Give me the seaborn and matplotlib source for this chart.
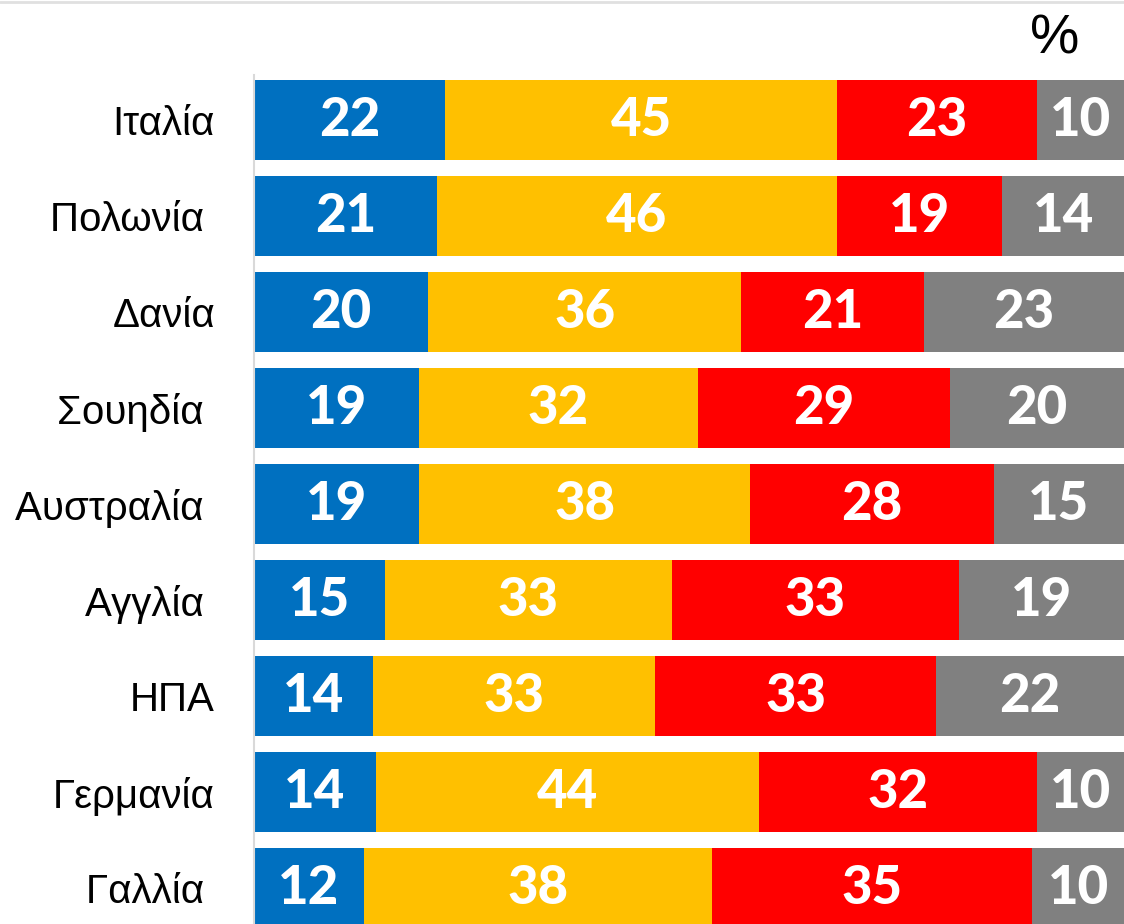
import matplotlib
matplotlib.use("Agg")
import matplotlib.pyplot as plt
from matplotlib.lines import Line2D
import numpy as np
import pandas as pd
import seaborn as sns

# data
countries = ["Ιταλία", "Πολωνία ", "Δανία", "Σουηδία ", "Αυστραλία ",
             "Αγγλία ", "ΗΠΑ", "Γερμανία", "Γαλλία "]
blue_vals = [22, 21, 20, 19, 19, 15, 14, 14, 12]
yellow_vals = [45, 46, 36, 32, 38, 33, 33, 44, 38]
red_vals = [23, 19, 21, 29, 28, 33, 33, 32, 35]
grey_vals = [10, 14, 23, 20, 15, 19, 22, 10, 10]
seg_colors = ["#0070C0", "#FFC000", "#FF0000", "#808080"]

sns.set_style("white")
plt.rcParams["font.family"] = ["Liberation Sans", "DejaVu Sans"]

df = pd.DataFrame({"country": countries, "s1": blue_vals, "s2": yellow_vals,
                   "s3": red_vals, "s4": grey_vals})
segs = ["s1", "s2", "s3", "s4"]
# bars are drawn as shares of the row total (rows don't always add to 100)
share = df[segs].div(df[segs].sum(axis=1), axis=0) * 100
cum = share.cumsum(axis=1)

fig = plt.figure(figsize=(11.24, 9.24), dpi=100)
ax = fig.add_axes([254 / 1124, 0, 870 / 1124, 849 / 924])

# stacked bars: draw cumulative totals back to front
for seg, col in reversed(list(zip(segs, seg_colors))):
    sns.barplot(x=cum[seg], y=df["country"], color=col, width=0.83,
                orient="h", ax=ax, saturation=1, linewidth=0)

# value labels centred in each segment
for i in range(len(df)):
    for seg in segs:
        xc = cum.loc[i, seg] - share.loc[i, seg] / 2
        ax.text(xc, i, str(df.loc[i, seg]), ha="center", va="center",
                color="white", fontsize=38, fontweight="black",
                family=["Lato", "DejaVu Sans"])

ax.set_xlim(0, 100)
ax.set_ylim(8.375, -0.47)
ax.set_xlabel("")
ax.set_ylabel("")
ax.set_xticks([])
ax.tick_params(axis="y", length=0, pad=28, labelsize=29, labelcolor="black")
for s in ["top", "right", "bottom"]:
    ax.spines[s].set_visible(False)
ax.spines["left"].set_color("#D9D9D9")
ax.spines["left"].set_linewidth(1.5)

fig.text(1055 / 1124, 1 - 40 / 924, "%", ha="center", va="center",
         fontsize=40, color="black")
fig.add_artist(Line2D([0, 1], [0.998, 0.998], color="#E0E0E0", lw=2,
                      transform=fig.transFigure))

fig.savefig("out.png", dpi=100)
